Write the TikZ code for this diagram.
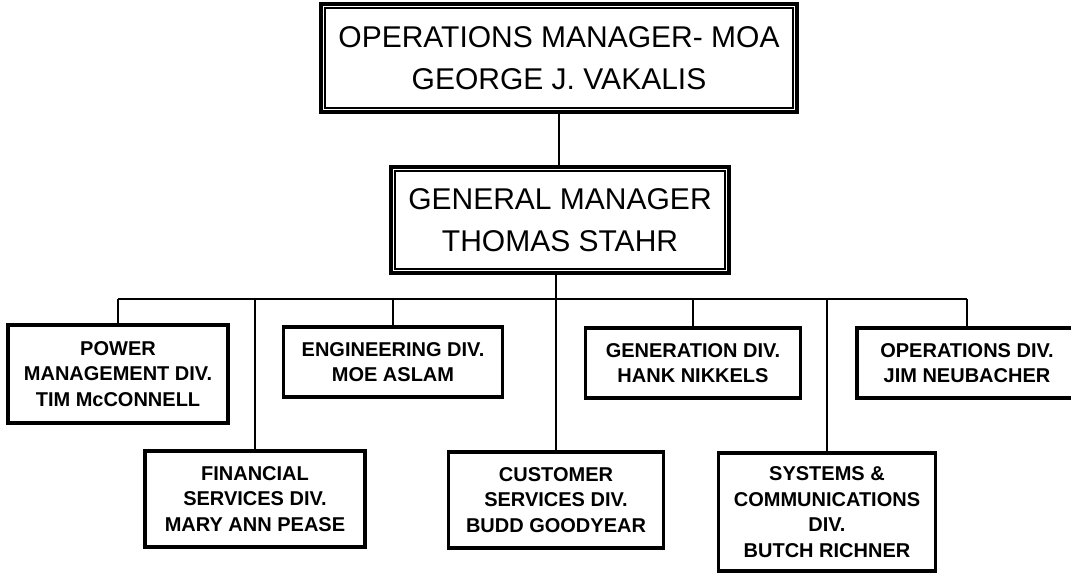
\documentclass[tikz,border=0pt]{standalone}
\usepackage{fontspec}
\setmainfont{Liberation Sans}
\begin{document}
\begin{tikzpicture}[x=1pt,y=-1pt,
  bigbox/.style={draw, line width=4pt, align=center, inner sep=0pt,
    font=\fontsize{30}{42}\selectfont},
  divbox/.style={draw, line width=3.5pt, align=center, inner sep=0pt,
    font=\bfseries\fontsize{20}{25.5}\selectfont},
  inner/.style={line width=1.2pt},
  conn/.style={line width=1.6pt}]
\useasboundingbox[fill=white] (0,0) rectangle (1071,573);

\node[bigbox, minimum width=476pt, minimum height=108pt] (top) at (559,58)
  {OPERATIONS MANAGER- MOA\\GEORGE J. VAKALIS};
\draw[inner] ([shift={(6pt,-6pt)}]top.north west) rectangle ([shift={(-6pt,6pt)}]top.south east);

\node[bigbox, minimum width=338pt, minimum height=106pt] (gm) at (560,220)
  {GENERAL MANAGER\\THOMAS STAHR};
\draw[inner] ([shift={(6pt,-6pt)}]gm.north west) rectangle ([shift={(-6pt,6pt)}]gm.south east);

\node[divbox, minimum width=220pt, minimum height=98pt] (power) at (118,374)
  {POWER\\MANAGEMENT DIV.\\TIM McCONNELL};
\node[divbox, minimum width=220pt, minimum height=96pt] (fin) at (255,499)
  {FINANCIAL\\SERVICES DIV.\\MARY ANN PEASE};
\node[divbox, minimum width=219pt, minimum height=70pt] (eng) at (393,362)
  {ENGINEERING DIV.\\MOE ASLAM};
\node[divbox, minimum width=215pt, minimum height=96pt] (cust) at (556,500)
  {CUSTOMER\\SERVICES DIV.\\BUDD GOODYEAR};
\node[divbox, minimum width=215pt, minimum height=70pt] (gen) at (693,363)
  {GENERATION DIV.\\HANK NIKKELS};
\node[divbox, minimum width=217pt, minimum height=118pt] (sys) at (827,512)
  {SYSTEMS \&\\COMMUNICATIONS\\DIV.\\BUTCH RICHNER};
\node[divbox, minimum width=220pt, minimum height=70pt] (ops) at (967,363)
  {OPERATIONS DIV.\\JIM NEUBACHER};

\coordinate (bus) at (0,299);

\draw[conn] (top.south) -- (top.south |- gm.north);
\draw[conn] (cust.north |- gm.south) -- (cust.north);
\draw[conn] (power.north |- bus) -- (ops.north |- bus);
\foreach \b in {power,fin,eng,gen,sys,ops}
  \draw[conn] (\b.north |- bus) -- (\b.north);
\end{tikzpicture}
\end{document}
